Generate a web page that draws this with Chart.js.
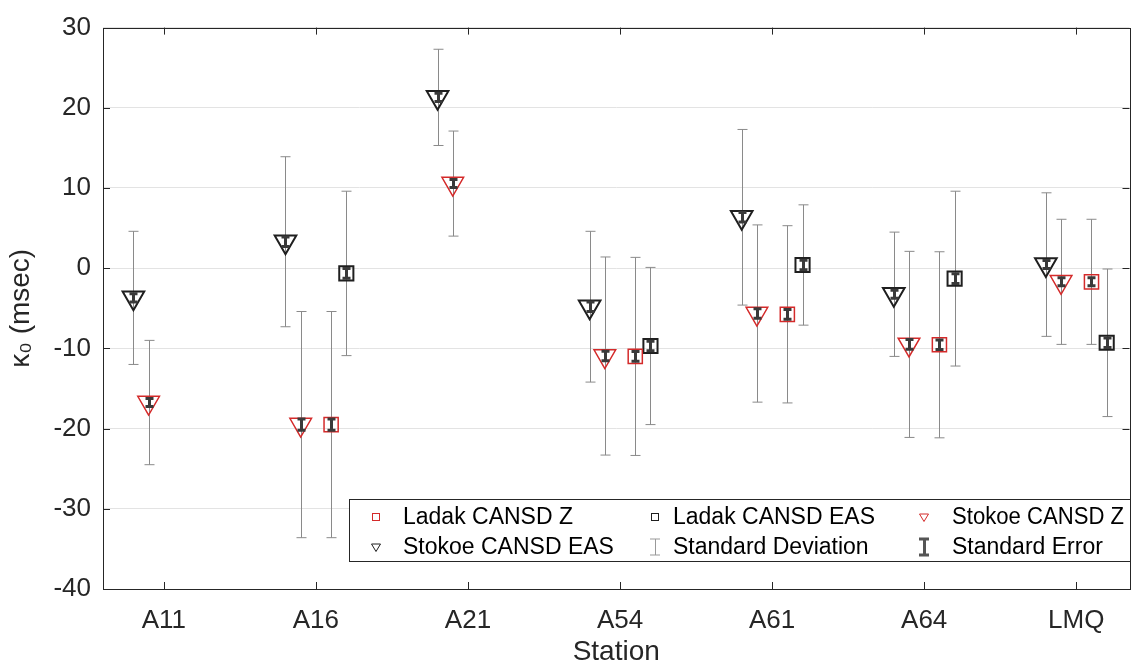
<!DOCTYPE html>
<html>
<head>
<meta charset="utf-8">
<script src="https://cdn.jsdelivr.net/npm/chart.js@4/dist/chart.umd.min.js"></script>
<style>
  html, body { margin: 0; padding: 0; background: #fff; }
</style>
</head>
<body>
<canvas id="grafico" width="1144" height="669"></canvas>
<script>
// Estações (eixo x)
const stations = ['A11', 'A16', 'A21', 'A54', 'A61', 'A64', 'LMQ'];

// Stokoe CANSD EAS
const stokoeEasMean = [-3.7, 3.3, 21.3, -4.8, 6.35, -3.25, 0.45];
const stokoeEasSd   = [8.3, 10.6, 6.0, 9.4, 10.95, 7.75, 8.95];
const stokoeEasSe   = [0.5, 0.6, 0.5, 0.6, 0.6, 0.5, 0.5];

// Stokoe CANSD Z
const stokoeZMean = [-16.75, -19.5, 10.55, -10.95, -5.65, -9.5, -1.7];
const stokoeZSd   = [7.75, 14.1, 6.55, 12.35, 11.05, 11.6, 7.8];
const stokoeZSe   = [0.5, 0.7, 0.5, 0.6, 0.6, 0.6, 0.5];

// Ladak CANSD Z (sem A11 e A21)
const ladakZMean = [null, -19.5, null, -11.0, -5.75, -9.55, -1.7];
const ladakZSd   = [null, 14.1, null, 12.35, 11.05, 11.6, 7.8];
const ladakZSe   = [null, 0.7, null, 0.6, 0.6, 0.6, 0.5];

// Ladak CANSD EAS (sem A11 e A21)
const ladakEasMean = [null, -0.65, null, -9.7, 0.4, -1.3, -9.3];
const ladakEasSd   = [null, 10.25, null, 9.8, 7.5, 10.9, 9.2];
const ladakEasSe   = [null, 0.6, null, 0.6, 0.6, 0.6, 0.6];

const legendLabels = ['Ladak CANSD Z', 'Ladak CANSD EAS', 'Stokoe CANSD Z',
                      'Stokoe CANSD EAS', 'Standard Deviation', 'Standard Error'];

const FONT = '"Liberation Sans", Arial, Helvetica, sans-serif';
const RED = '#d42a2a';
const DARK = '#1f1f1f';
const AXIS = '#262626';

// Monta os pontos de uma série deslocada dentro do grupo da estação
function montarPontos(means, sds, ses, desloc) {
    const pts = [];
    means.forEach((m, i) => {
        if (m === null) return;
        pts.push({ x: i + 1 + desloc, y: m, sd: sds[i], se: ses[i] });
    });
    return pts;
}

// Barras de erro (desvio padrão por baixo, erro padrão por cima)
function desenharBarras(chart, chave, cor, largura, aba) {
    const { ctx, scales: { x, y } } = chart;
    ctx.save();
    ctx.strokeStyle = cor;
    ctx.lineWidth = largura;
    chart.data.datasets.forEach(ds => {
        ds.data.forEach(p => {
            const px = Math.round(x.getPixelForValue(p.x)) + 0.5;
            const topo = y.getPixelForValue(p.y + p[chave]);
            const base = y.getPixelForValue(p.y - p[chave]);
            ctx.beginPath();
            ctx.moveTo(px, topo); ctx.lineTo(px, base);
            ctx.moveTo(px - aba, topo); ctx.lineTo(px + aba, topo);
            ctx.moveTo(px - aba, base); ctx.lineTo(px + aba, base);
            ctx.stroke();
        });
    });
    ctx.restore();
}

const errorBars = {
    id: 'errorBars',
    beforeDatasetsDraw(chart) { desenharBarras(chart, 'sd', '#8a8a8a', 1, 5); },
    afterDatasetsDraw(chart) { desenharBarras(chart, 'se', '#3a3a3a', 3, 4); }
};

// Caixa do eixo com marcas para dentro (estilo MATLAB)
const caixaEixo = {
    id: 'caixaEixo',
    afterDatasetsDraw(chart) {
        const { ctx, chartArea: a, scales: { x, y } } = chart;
        ctx.save();
        ctx.strokeStyle = AXIS;
        ctx.lineWidth = 1;
        ctx.beginPath();
        x.ticks.forEach(t => {
            const px = Math.round(x.getPixelForValue(t.value)) + 0.5;
            ctx.moveTo(px, a.bottom); ctx.lineTo(px, a.bottom - 7);
            ctx.moveTo(px, a.top); ctx.lineTo(px, a.top + 7);
        });
        y.ticks.forEach(t => {
            const py = Math.round(y.getPixelForValue(t.value)) + 0.5;
            ctx.moveTo(a.left, py); ctx.lineTo(a.left + 7, py);
            ctx.moveTo(a.right, py); ctx.lineTo(a.right - 7, py);
        });
        ctx.stroke();
        ctx.strokeRect(Math.round(a.left) + 0.5, Math.round(a.top) + 0.5,
                       Math.round(a.right - a.left), Math.round(a.bottom - a.top));
        ctx.restore();
    }
};

// Legenda dentro da área do gráfico (3 colunas x 2 linhas)
const legendaInterna = {
    id: 'legendaInterna',
    afterDraw(chart) {
        const ctx = chart.ctx;
        const a = chart.chartArea;
        const box = { l: 349, t: 499, r: Math.round(a.right), b: 561 };
        ctx.save();
        ctx.fillStyle = '#fff';
        ctx.fillRect(box.l, box.t, box.r - box.l, box.b - box.t);
        ctx.strokeStyle = AXIS;
        ctx.lineWidth = 1;
        ctx.strokeRect(box.l + 0.5, box.t + 0.5, box.r - box.l, box.b - box.t);

        const colMarca = [376, 655, 924];
        const colTexto = [403, 673, 952];
        const linhas = [517, 547];
        ctx.font = '23px ' + FONT;
        ctx.fillStyle = '#000';
        ctx.textBaseline = 'middle';
        ctx.textAlign = 'left';
        legendLabels.forEach((txt, i) => {
            const c = i % 3, r = Math.floor(i / 3);
            const mx = colMarca[c], my = linhas[r];
            ctx.fillText(txt, colTexto[c], my + 1, box.r - colTexto[c] - 6);
            ctx.beginPath();
            if (i === 0 || i === 1) {
                ctx.strokeStyle = i === 0 ? RED : DARK;
                ctx.lineWidth = 1;
                ctx.strokeRect(mx - 3.5, my - 3.5, 7, 7);
            } else if (i === 2 || i === 3) {
                ctx.strokeStyle = i === 2 ? RED : DARK;
                ctx.lineWidth = 1;
                ctx.moveTo(mx - 4.5, my - 3);
                ctx.lineTo(mx + 4.5, my - 3);
                ctx.lineTo(mx, my + 4.5);
                ctx.closePath();
                ctx.stroke();
            } else {
                const se = i === 5;
                ctx.strokeStyle = se ? '#555' : '#999';
                ctx.lineWidth = se ? 3 : 1;
                const h = 8, w = 5;
                ctx.moveTo(mx + 0.5, my - h); ctx.lineTo(mx + 0.5, my + h);
                ctx.moveTo(mx - w, my - h); ctx.lineTo(mx + w, my - h);
                ctx.moveTo(mx - w, my + h); ctx.lineTo(mx + w, my + h);
                ctx.stroke();
            }
        });
        ctx.restore();
    }
};

const datasets = [
    {
        label: 'Stokoe CANSD EAS',
        data: montarPontos(stokoeEasMean, stokoeEasSd, stokoeEasSe, -0.2),
        pointStyle: 'triangle', rotation: 180, pointRadius: 12.5,
        borderColor: DARK, borderWidth: 2, backgroundColor: 'rgba(0,0,0,0)'
    },
    {
        label: 'Stokoe CANSD Z',
        data: montarPontos(stokoeZMean, stokoeZSd, stokoeZSe, -0.1),
        pointStyle: 'triangle', rotation: 180, pointRadius: 12.5,
        borderColor: RED, borderWidth: 1.5, backgroundColor: 'rgba(0,0,0,0)'
    },
    {
        label: 'Ladak CANSD Z',
        data: montarPontos(ladakZMean, ladakZSd, ladakZSe, 0.1),
        pointStyle: 'rect', pointRadius: 10,
        borderColor: RED, borderWidth: 1.5, backgroundColor: 'rgba(0,0,0,0)'
    },
    {
        label: 'Ladak CANSD EAS',
        data: montarPontos(ladakEasMean, ladakEasSd, ladakEasSe, 0.2),
        pointStyle: 'rect', pointRadius: 10,
        borderColor: DARK, borderWidth: 2, backgroundColor: 'rgba(0,0,0,0)'
    }
];

new Chart(document.getElementById('grafico').getContext('2d'), {
    type: 'scatter',
    data: { datasets },
    options: {
        responsive: false,
        animation: false,
        devicePixelRatio: 1,
        layout: { padding: { top: 17, right: 14, left: 0, bottom: 0 } },
        plugins: {
            legend: { display: false },
            tooltip: { enabled: false }
        },
        scales: {
            x: {
                type: 'linear',
                min: 0.6,
                max: 7.35,
                afterBuildTicks: (scale) => {
                    scale.ticks = stations.map((s, i) => ({ value: i + 1 }));
                },
                afterFit: (scale) => { scale.height = 80; },
                ticks: {
                    callback: (v) => stations[v - 1],
                    font: { family: FONT, size: 26 },
                    color: AXIS,
                    padding: 16,
                    maxRotation: 0
                },
                grid: { display: false, drawTicks: false },
                border: { display: false },
                title: {
                    display: true,
                    text: 'Station',
                    font: { family: FONT, size: 28 },
                    color: AXIS,
                    padding: { top: 0, bottom: 0 }
                }
            },
            y: {
                min: -40,
                max: 30,
                afterFit: (scale) => { scale.width = 103; },
                ticks: {
                    stepSize: 10,
                    font: { family: FONT, size: 26 },
                    color: AXIS,
                    padding: 12
                },
                grid: { color: '#e3e3e3', drawTicks: false },
                border: { display: false },
                title: {
                    display: true,
                    text: 'κ₀ (msec)',
                    font: { family: FONT, size: 28 },
                    color: AXIS,
                    padding: { top: 4, bottom: 0 }
                }
            }
        }
    },
    plugins: [errorBars, caixaEixo, legendaInterna]
});
</script>
</body>
</html>
